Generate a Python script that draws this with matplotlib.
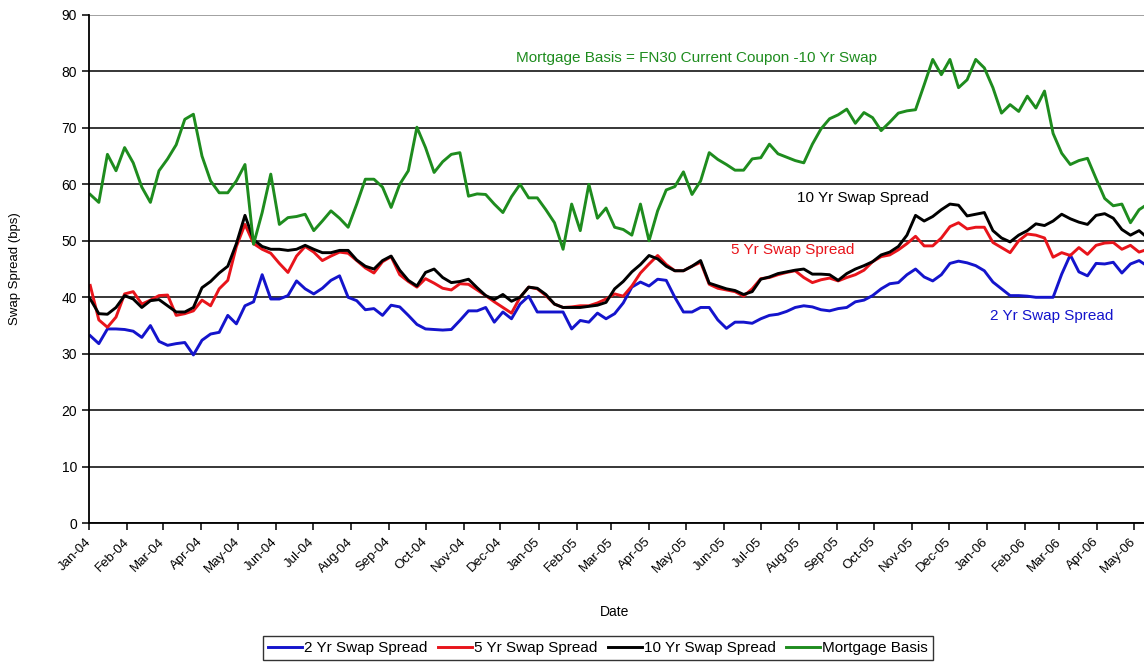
import matplotlib
matplotlib.use("Agg")
import matplotlib.pyplot as plt
import matplotlib.dates as mdates
import pandas as pd

plt.rcParams['font.family'] = ['Liberation Sans', 'DejaVu Sans']

# weekly observations, Jan-04 .. May-06
dates = pd.date_range('2004-01-02', periods=125, freq='7D')

two_yr = [33.2, 31.8, 34.4, 34.4, 34.3, 34.0, 32.9, 35.0, 32.2, 31.5,
          31.8, 32.0, 29.8, 32.4, 33.5, 33.8, 36.8, 35.3, 38.5, 39.2,
          44.0, 39.7, 39.7, 40.3, 42.9, 41.5, 40.6, 41.6, 43.0, 43.8,
          40.0, 39.4, 37.8, 38.0, 36.8, 38.6, 38.3, 36.8, 35.2, 34.4,
          34.3, 34.2, 34.3, 35.9, 37.6, 37.6, 38.2, 35.6, 37.4, 36.2,
          38.8, 40.2, 37.4, 37.4, 37.4, 37.4, 34.4, 35.9, 35.6, 37.2,
          36.2, 37.1, 39.0, 41.8, 42.7, 42.0, 43.2, 43.0, 40.0, 37.4,
          37.4, 38.2, 38.2, 36.0, 34.5, 35.6, 35.6, 35.4, 36.2, 36.8,
          37.0, 37.5, 38.2, 38.5, 38.3, 37.8, 37.6, 38.0, 38.2, 39.2,
          39.5, 40.3, 41.5, 42.4, 42.6, 44.0, 45.0, 43.6, 42.9, 44.0,
          46.0, 46.4, 46.1, 45.6, 44.7, 42.7, 41.5, 40.3, 40.3, 40.2,
          40.0, 40.0, 40.0, 44.1, 47.5, 44.5, 43.8, 46.0, 45.9, 46.2,
          44.3, 45.9, 46.5, 45.5, 45.0]

five_yr = [42.1, 36.0, 34.7, 36.5, 40.6, 41.0, 38.8, 39.5, 40.3, 40.4,
           36.8, 37.1, 37.6, 39.5, 38.5, 41.5, 43.0, 49.0, 52.9, 49.5,
           48.5, 47.8, 46.0, 44.4, 47.3, 49.0, 48.0, 46.5, 47.3, 48.0,
           47.8, 46.5, 45.2, 44.3, 46.3, 47.2, 44.0, 42.8, 41.8, 43.3,
           42.5, 41.6, 41.3, 42.4, 42.3, 41.3, 40.3, 39.2, 38.2, 37.2,
           40.0, 41.8, 41.5, 40.3, 38.8, 38.2, 38.3, 38.5, 38.5, 39.0,
           39.7, 40.6, 40.2, 42.0, 44.3, 45.9, 47.4, 45.8, 44.7, 44.7,
           45.5, 46.2, 42.3, 41.6, 41.3, 41.0, 40.2, 41.5, 43.3, 43.5,
           44.0, 44.4, 44.7, 43.5, 42.6, 43.1, 43.4, 42.9, 43.5, 44.0,
           44.8, 46.3, 47.2, 47.5, 48.4, 49.5, 50.8, 49.1, 49.1, 50.5,
           52.5, 53.2, 52.1, 52.4, 52.4, 49.7, 48.8, 47.9, 50.0, 51.2,
           51.0, 50.5, 47.1, 47.9, 47.4, 48.8, 47.6, 49.2, 49.6, 49.7,
           48.5, 49.2, 48.0, 48.5, 48.2]

ten_yr = [39.7, 37.1, 37.0, 38.2, 40.3, 39.7, 38.2, 39.4, 39.6, 38.5,
          37.4, 37.4, 38.2, 41.7, 42.8, 44.3, 45.5, 49.5, 54.5, 50.2,
          49.0, 48.5, 48.5, 48.3, 48.5, 49.2, 48.5, 47.9, 47.9, 48.3,
          48.3, 46.6, 45.5, 45.0, 46.5, 47.3, 44.8, 43.0, 42.0, 44.4,
          45.0, 43.5, 42.6, 42.8, 43.2, 41.7, 40.3, 39.6, 40.5, 39.3,
          40.0, 41.8, 41.6, 40.5, 38.8, 38.2, 38.2, 38.2, 38.4, 38.6,
          39.1, 41.5, 42.8, 44.5, 45.8, 47.4, 46.8, 45.5, 44.7, 44.7,
          45.5, 46.5, 42.5, 42.0, 41.5, 41.2, 40.5, 41.0, 43.2, 43.6,
          44.2, 44.5, 44.8, 45.0, 44.1, 44.1, 44.0, 43.0, 44.2, 45.0,
          45.6, 46.3, 47.5, 48.0, 49.0, 51.0, 54.5, 53.5, 54.3, 55.5,
          56.5, 56.3, 54.4, 54.7, 55.0, 51.8, 50.5, 49.8, 51.0, 51.8,
          53.0, 52.7, 53.5, 54.7, 53.9, 53.3, 52.9, 54.5, 54.8, 54.0,
          52.0, 51.0, 51.8, 50.5, 50.0]

mortgage_basis = [58.2, 56.8, 65.3, 62.4, 66.5, 63.8, 59.5, 56.8, 62.4, 64.5,
                  67.0, 71.5, 72.4, 65.0, 60.6, 58.5, 58.5, 60.6, 63.5, 49.4,
                  55.0, 61.8, 52.9, 54.1, 54.3, 54.7, 51.8, 53.5, 55.3, 54.0,
                  52.4, 56.5, 60.9, 60.9, 59.5, 55.9, 60.0, 62.4, 70.1, 66.5,
                  62.1, 64.0, 65.3, 65.6, 57.9, 58.3, 58.2, 56.5, 55.0, 57.8,
                  60.0, 57.6, 57.6, 55.5, 53.2, 48.5, 56.5, 51.8, 60.0, 54.0,
                  55.8, 52.4, 52.0, 51.0, 56.5, 50.0, 55.3, 59.0, 59.6, 62.2,
                  58.2, 60.6, 65.6, 64.4, 63.5, 62.5, 62.5, 64.5, 64.7, 67.1,
                  65.4, 64.8, 64.2, 63.8, 67.1, 69.8, 71.6, 72.3, 73.3, 70.8,
                  72.7, 71.8, 69.5, 71.0, 72.6, 73.0, 73.2, 77.6, 82.1, 79.4,
                  82.1, 77.1, 78.5, 82.1, 80.6, 77.1, 72.6, 74.1, 72.9, 75.6,
                  73.5, 76.5, 69.0, 65.5, 63.5, 64.2, 64.6, 61.0, 57.5, 56.2,
                  56.5, 53.2, 55.5, 56.5, 57.0]

series = [
    ('2 Yr Swap Spread', two_yr, '#1414CC'),
    ('5 Yr Swap Spread', five_yr, '#E8141B'),
    ('10 Yr Swap Spread', ten_yr, 'black'),
    ('Mortgage Basis', mortgage_basis, '#1E8C1E'),
]

W, H = 1144, 662
fig = plt.figure(figsize=(W / 100, H / 100), dpi=100)
fig.patch.set_facecolor('white')

# plot area runs past the right edge of the picture, like the reference crop
left, right = 89, 1171
bottom, top = 523.3, 14.8
ax = fig.add_axes([left / W, (H - bottom) / H, (right - left) / W, (bottom - top) / H])

for name, vals, col in series:
    ax.plot(dates, vals, color=col, linewidth=2.1, label=name)

ax.set_ylim(0, 90)
ax.set_yticks(range(0, 91, 10))
ax.set_xlim(pd.Timestamp('2004-01-01'), pd.Timestamp('2006-05-31'))
ax.xaxis.set_major_locator(mdates.MonthLocator())
ax.xaxis.set_major_formatter(mdates.DateFormatter('%b-%y'))
for lbl in ax.get_xticklabels():
    lbl.set_rotation(45)
    lbl.set_ha('right')
    lbl.set_va('center')
    lbl.set_rotation_mode('anchor')

ax.grid(axis='y', color='black', linewidth=1.1)
ax.get_ygridlines()[-1].set_color('#888888')
ax.set_axisbelow(True)
for side in ('top', 'right'):
    ax.spines[side].set_visible(False)
for side in ('left', 'bottom'):
    ax.spines[side].set_linewidth(1.3)
ax.tick_params(axis='both', direction='out', length=5, width=1.1, labelsize=10, color='black')
ax.tick_params(axis='x', pad=7, labelsize=9.5)

ax.set_ylabel('Swap Spread (bps)', fontsize=9.5)
ax.yaxis.set_label_coords((21 - left) / (right - left), 0.5)
ax.set_xlabel('Date', fontsize=10)
ax.xaxis.set_label_coords((615 - left) / (right - left), -(605 - bottom) / (bottom - top))

# in-chart captions
ax.text(pd.Timestamp('2005-05-10'), 82.3, 'Mortgage Basis = FN30 Current Coupon -10 Yr Swap',
        color='#1E8C1E', fontsize=11, ha='center', va='center')
ax.text(pd.Timestamp('2005-09-22'), 57.6, '10 Yr Swap Spread', color='black',
        fontsize=11, ha='center', va='center')
ax.text(pd.Timestamp('2005-07-27'), 48.4, '5 Yr Swap Spread', color='#E8141B',
        fontsize=11, ha='center', va='center')
ax.text(pd.Timestamp('2006-02-23'), 36.7, '2 Yr Swap Spread', color='#1414CC',
        fontsize=11, ha='center', va='center')

leg = fig.legend(loc='center', bbox_to_anchor=(598 / W, (H - 648) / H), ncol=4,
                 fontsize=11, frameon=True, fancybox=False, edgecolor='black',
                 handlelength=2.2, handletextpad=0.15, columnspacing=0.7,
                 borderpad=0.3, borderaxespad=0)
leg.get_frame().set_linewidth(1.0)

fig.savefig('out.png', dpi=100)
